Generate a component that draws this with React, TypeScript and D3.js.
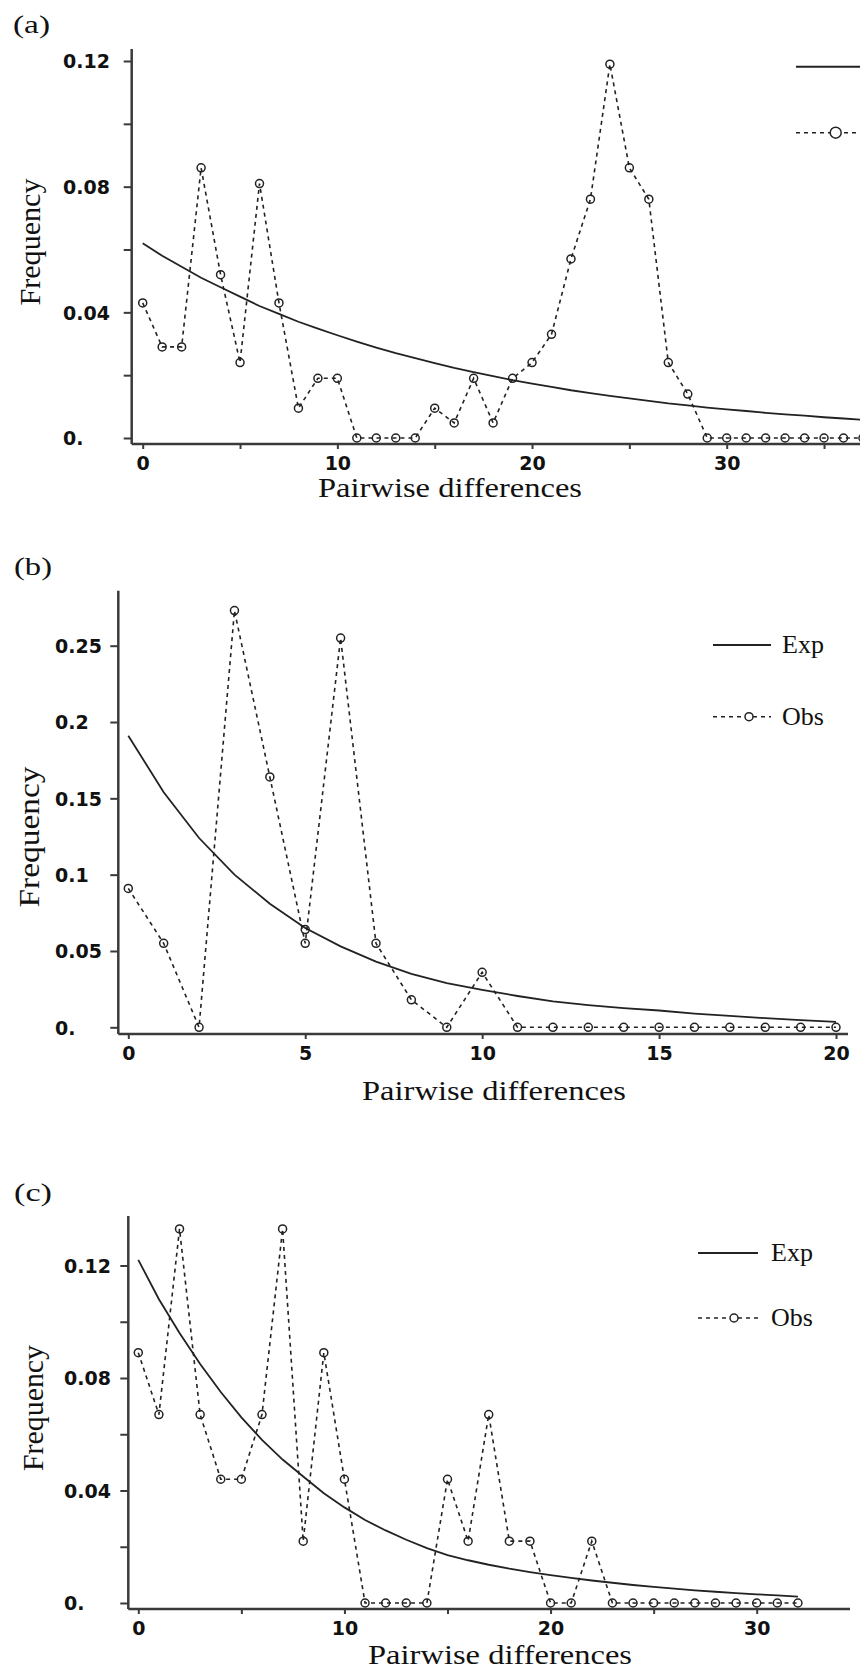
import React, { useRef, useEffect } from "react";
import * as d3 from "d3";

// Panel (a)
const obsA = [0.043, 0.029, 0.029, 0.086, 0.052, 0.024, 0.081, 0.043, 0.0095, 0.019, 0.019, 0, 0, 0, 0, 0.0095, 0.0048, 0.019, 0.0048, 0.019, 0.024, 0.033, 0.057, 0.076, 0.119, 0.086, 0.076, 0.024, 0.014, 0, 0, 0, 0, 0, 0, 0, 0, 0];
const expA = [0.062, 0.058, 0.0545, 0.051, 0.048, 0.045, 0.042, 0.0395, 0.037, 0.0348, 0.0327, 0.0307, 0.0288, 0.027, 0.0254, 0.0238, 0.0223, 0.021, 0.0197, 0.0184, 0.0173, 0.0163, 0.0152, 0.0143, 0.0134, 0.0126, 0.0118, 0.011, 0.0104, 0.0097, 0.0091, 0.0086, 0.008, 0.0075, 0.0071, 0.0066, 0.0062, 0.0058];
const yTicksA = [0, 0.04, 0.08, 0.12];
const yMinorA = [0.02, 0.06, 0.1];
const xTicksA = [0, 10, 20, 30];
const xMinorA = [5, 15, 25, 35];

// Panel (b)
const obsB = [0.091, 0.055, 0, 0.273, 0.164, 0.055, 0.255, 0.055, 0.018, 0, 0.036, 0, 0, 0, 0, 0, 0, 0, 0, 0, 0];
const expB = [0.191, 0.154, 0.124, 0.1, 0.081, 0.065, 0.053, 0.043, 0.035, 0.029, 0.0245, 0.0205, 0.017, 0.0145, 0.0125, 0.011, 0.009, 0.0075, 0.006, 0.0047, 0.0036];
// a lone extra circle sitting on the Exp curve at x = 5
const extraB = [{ x: 5, v: 0.064 }];
const yTicksB = [0, 0.05, 0.1, 0.15, 0.2, 0.25];
const xTicksB = [0, 5, 10, 15, 20];

// Panel (c)
const obsC = [0.089, 0.067, 0.133, 0.067, 0.044, 0.044, 0.067, 0.133, 0.022, 0.089, 0.044, 0, 0, 0, 0, 0.044, 0.022, 0.067, 0.022, 0.022, 0, 0, 0.022, 0, 0, 0, 0, 0, 0, 0, 0, 0, 0];
const expC = [0.122, 0.108, 0.096, 0.085, 0.075, 0.066, 0.058, 0.051, 0.045, 0.039, 0.034, 0.0295, 0.0258, 0.0225, 0.0195, 0.017, 0.0152, 0.0136, 0.0122, 0.011, 0.0099, 0.0089, 0.008, 0.0072, 0.0064, 0.0057, 0.0051, 0.0045, 0.004, 0.0035, 0.0031, 0.0027, 0.0023];
const yTicksC = [0, 0.04, 0.08, 0.12];
const yMinorC = [0.02, 0.06, 0.1];
const xTicksC = [0, 10, 20, 30];
const xMinorC = [5, 15, 25];

const seriesNames = ["Exp", "Obs"];
const xTitle = "Pairwise differences";
const yTitle = "Frequency";

const SERIF = "'Liberation Serif', 'Times New Roman', serif";
const SANS = "'DejaVu Sans', sans-serif";
const AXIS = "#3a3a3a";
const INK = "#222";

const panels = [
  {
    label: "(a)", labelX: 13, labelY: 33, labelLen: 37,
    obs: obsA, exp: expA, extra: [], yTicks: yTicksA, yMinor: yMinorA, xTicks: xTicksA, xMinor: xMinorA,
    xDomain: [0, 30], xRange: [142.7, 726.7], yDomain: [0, 0.12], yRange: [438, 61],
    left: 131.7, bottom: 444, top: 49, right: 860, tickLabelX: 63,
    freqX: 40, freqY: 242, freqLen: 127,
    titleX: 450, titleY: 497,
    legLine: [796, 880], legCircle: 835.7, legR: 5.5, legExpY: 66.7, legObsY: 132.7, legText: null,
  },
  {
    label: "(b)", labelX: 14, labelY: 575, labelLen: 38,
    obs: obsB, exp: expB, extra: extraB, yTicks: yTicksB, yMinor: [], xTicks: xTicksB, xMinor: [],
    xDomain: [0, 20], xRange: [128.3, 836], yDomain: [0, 0.25], yRange: [1027.3, 645.7],
    left: 118.3, bottom: 1034, top: 590.7, right: 848, tickLabelX: 55,
    freqX: 39, freqY: 837, freqLen: 141,
    titleX: 494, titleY: 1100,
    legLine: [713, 771], legCircle: 749, legR: 4, legExpY: 645, legObsY: 716.7, legText: 782,
  },
  {
    label: "(c)", labelX: 14, labelY: 1201, labelLen: 38,
    obs: obsC, exp: expC, extra: [], yTicks: yTicksC, yMinor: yMinorC, xTicks: xTicksC, xMinor: xMinorC,
    xDomain: [0, 30], xRange: [138.3, 756.7], yDomain: [0, 0.12], yRange: [1603, 1265.5],
    left: 128.3, bottom: 1609, top: 1216, right: 850, tickLabelX: 64,
    freqX: 43, freqY: 1408, freqLen: 126,
    titleX: 500, titleY: 1664,
    legLine: [698, 758], legCircle: 734, legR: 4, legExpY: 1253, legObsY: 1318, legText: 771,
  },
];

const fmtTick = (d) => (d === 0 ? "0." : String(d));

function Panel({ p }) {
  const gRef = useRef(null);

  useEffect(() => {
    const g = d3.select(gRef.current);
    g.selectAll("*").remove();

    const x = d3.scaleLinear().domain(p.xDomain).range(p.xRange);
    const y = d3.scaleLinear().domain(p.yDomain).range(p.yRange);

    // axis lines (offset from the zero ticks, as in the original)
    g.append("line")
      .attr("x1", p.left).attr("x2", p.left)
      .attr("y1", p.top).attr("y2", p.bottom)
      .attr("stroke", AXIS).attr("stroke-width", 2.5);
    g.append("line")
      .attr("x1", p.left).attr("x2", p.right)
      .attr("y1", p.bottom).attr("y2", p.bottom)
      .attr("stroke", AXIS).attr("stroke-width", 2.5);

    // y ticks
    const ya = g.append("g")
      .attr("transform", "translate(" + p.left + ",0)")
      .call(d3.axisLeft(y).tickValues(p.yTicks).tickSize(8).tickFormat(fmtTick));
    ya.select(".domain").remove();
    ya.selectAll("line").attr("stroke", AXIS).attr("stroke-width", 2);
    ya.selectAll("text")
      .attr("x", p.tickLabelX - p.left)
      .attr("dy", "0.36em")
      .attr("text-anchor", "start")
      .attr("font-family", SANS).attr("font-weight", "bold").attr("font-size", 19)
      .attr("fill", "#111");
    if (p.yMinor.length) {
      const ym = g.append("g")
        .attr("transform", "translate(" + p.left + ",0)")
        .call(d3.axisLeft(y).tickValues(p.yMinor).tickSize(8).tickFormat(() => ""));
      ym.select(".domain").remove();
      ym.selectAll("line").attr("stroke", AXIS).attr("stroke-width", 2);
    }

    // x ticks
    const xa = g.append("g")
      .attr("transform", "translate(0," + p.bottom + ")")
      .call(d3.axisBottom(x).tickValues(p.xTicks).tickSize(5).tickFormat((d) => String(d)));
    xa.select(".domain").remove();
    xa.selectAll("line").attr("stroke", AXIS).attr("stroke-width", 2);
    xa.selectAll("text")
      .attr("y", 26).attr("dy", 0)
      .attr("font-family", SANS).attr("font-weight", "bold").attr("font-size", 19)
      .attr("fill", "#111");
    if (p.xMinor.length) {
      const xm = g.append("g")
        .attr("transform", "translate(0," + p.bottom + ")")
        .call(d3.axisBottom(x).tickValues(p.xMinor).tickSize(5).tickFormat(() => ""));
      xm.select(".domain").remove();
      xm.selectAll("line").attr("stroke", AXIS).attr("stroke-width", 2);
    }

    // expected (solid)
    g.append("path")
      .datum(p.exp)
      .attr("fill", "none")
      .attr("stroke", INK)
      .attr("stroke-width", 1.8)
      .attr("d", d3.line().x((d, i) => x(i)).y((d) => y(d)));

    // observed (dashed + open circles)
    g.append("path")
      .datum(p.obs)
      .attr("fill", "none")
      .attr("stroke", INK)
      .attr("stroke-width", 1.6)
      .attr("stroke-dasharray", "4,4")
      .attr("d", d3.line().x((d, i) => x(i)).y((d) => y(d)));
    g.selectAll("circle.obs")
      .data(p.obs)
      .join("circle")
      .attr("class", "obs")
      .attr("cx", (d, i) => x(i))
      .attr("cy", (d) => y(d))
      .attr("r", 4)
      .attr("fill", "none")
      .attr("stroke", INK)
      .attr("stroke-width", 1.5);
    g.selectAll("circle.extra")
      .data(p.extra)
      .join("circle")
      .attr("class", "extra")
      .attr("cx", (d) => x(d.x))
      .attr("cy", (d) => y(d.v))
      .attr("r", 4)
      .attr("fill", "none")
      .attr("stroke", INK)
      .attr("stroke-width", 1.5);

    // legend
    g.append("line")
      .attr("x1", p.legLine[0]).attr("x2", p.legLine[1])
      .attr("y1", p.legExpY).attr("y2", p.legExpY)
      .attr("stroke", INK).attr("stroke-width", 2);
    g.append("line")
      .attr("x1", p.legLine[0]).attr("x2", p.legLine[1])
      .attr("y1", p.legObsY).attr("y2", p.legObsY)
      .attr("stroke", INK).attr("stroke-width", 1.6)
      .attr("stroke-dasharray", "4,4");
    g.append("circle")
      .attr("cx", p.legCircle).attr("cy", p.legObsY).attr("r", p.legR)
      .attr("fill", "white").attr("stroke", INK).attr("stroke-width", 1.5);
    if (p.legText !== null) {
      [p.legExpY, p.legObsY].forEach((ly, i) => {
        g.append("text")
          .attr("x", p.legText).attr("y", ly).attr("dy", "0.3em")
          .attr("font-family", SERIF).attr("font-size", 26)
          .attr("fill", "#111")
          .text(seriesNames[i]);
      });
    }

    // panel label and axis titles
    g.append("text")
      .attr("x", p.labelX).attr("y", p.labelY)
      .attr("font-family", SERIF).attr("font-size", 26)
      .attr("textLength", p.labelLen).attr("lengthAdjust", "spacingAndGlyphs")
      .attr("fill", "#111")
      .text(p.label);
    g.append("text")
      .attr("transform", "translate(" + p.freqX + "," + p.freqY + ") rotate(-90)")
      .attr("text-anchor", "middle")
      .attr("font-family", SERIF).attr("font-size", 30)
      .attr("textLength", p.freqLen).attr("lengthAdjust", "spacingAndGlyphs")
      .attr("fill", "#111")
      .text(yTitle);
    g.append("text")
      .attr("x", p.titleX).attr("y", p.titleY)
      .attr("text-anchor", "middle")
      .attr("font-family", SERIF).attr("font-size", 28)
      .attr("textLength", 264).attr("lengthAdjust", "spacingAndGlyphs")
      .attr("fill", "#111")
      .text(xTitle);
  }, [p]);

  return <g ref={gRef} />;
}

export default function App() {
  return (
    <div style={{ position: "absolute", left: 0, top: 0 }}>
      <svg width={860} height={1672} style={{ display: "block", background: "white" }}>
        {panels.map((p) => (
          <Panel key={p.label} p={p} />
        ))}
      </svg>
    </div>
  );
}
